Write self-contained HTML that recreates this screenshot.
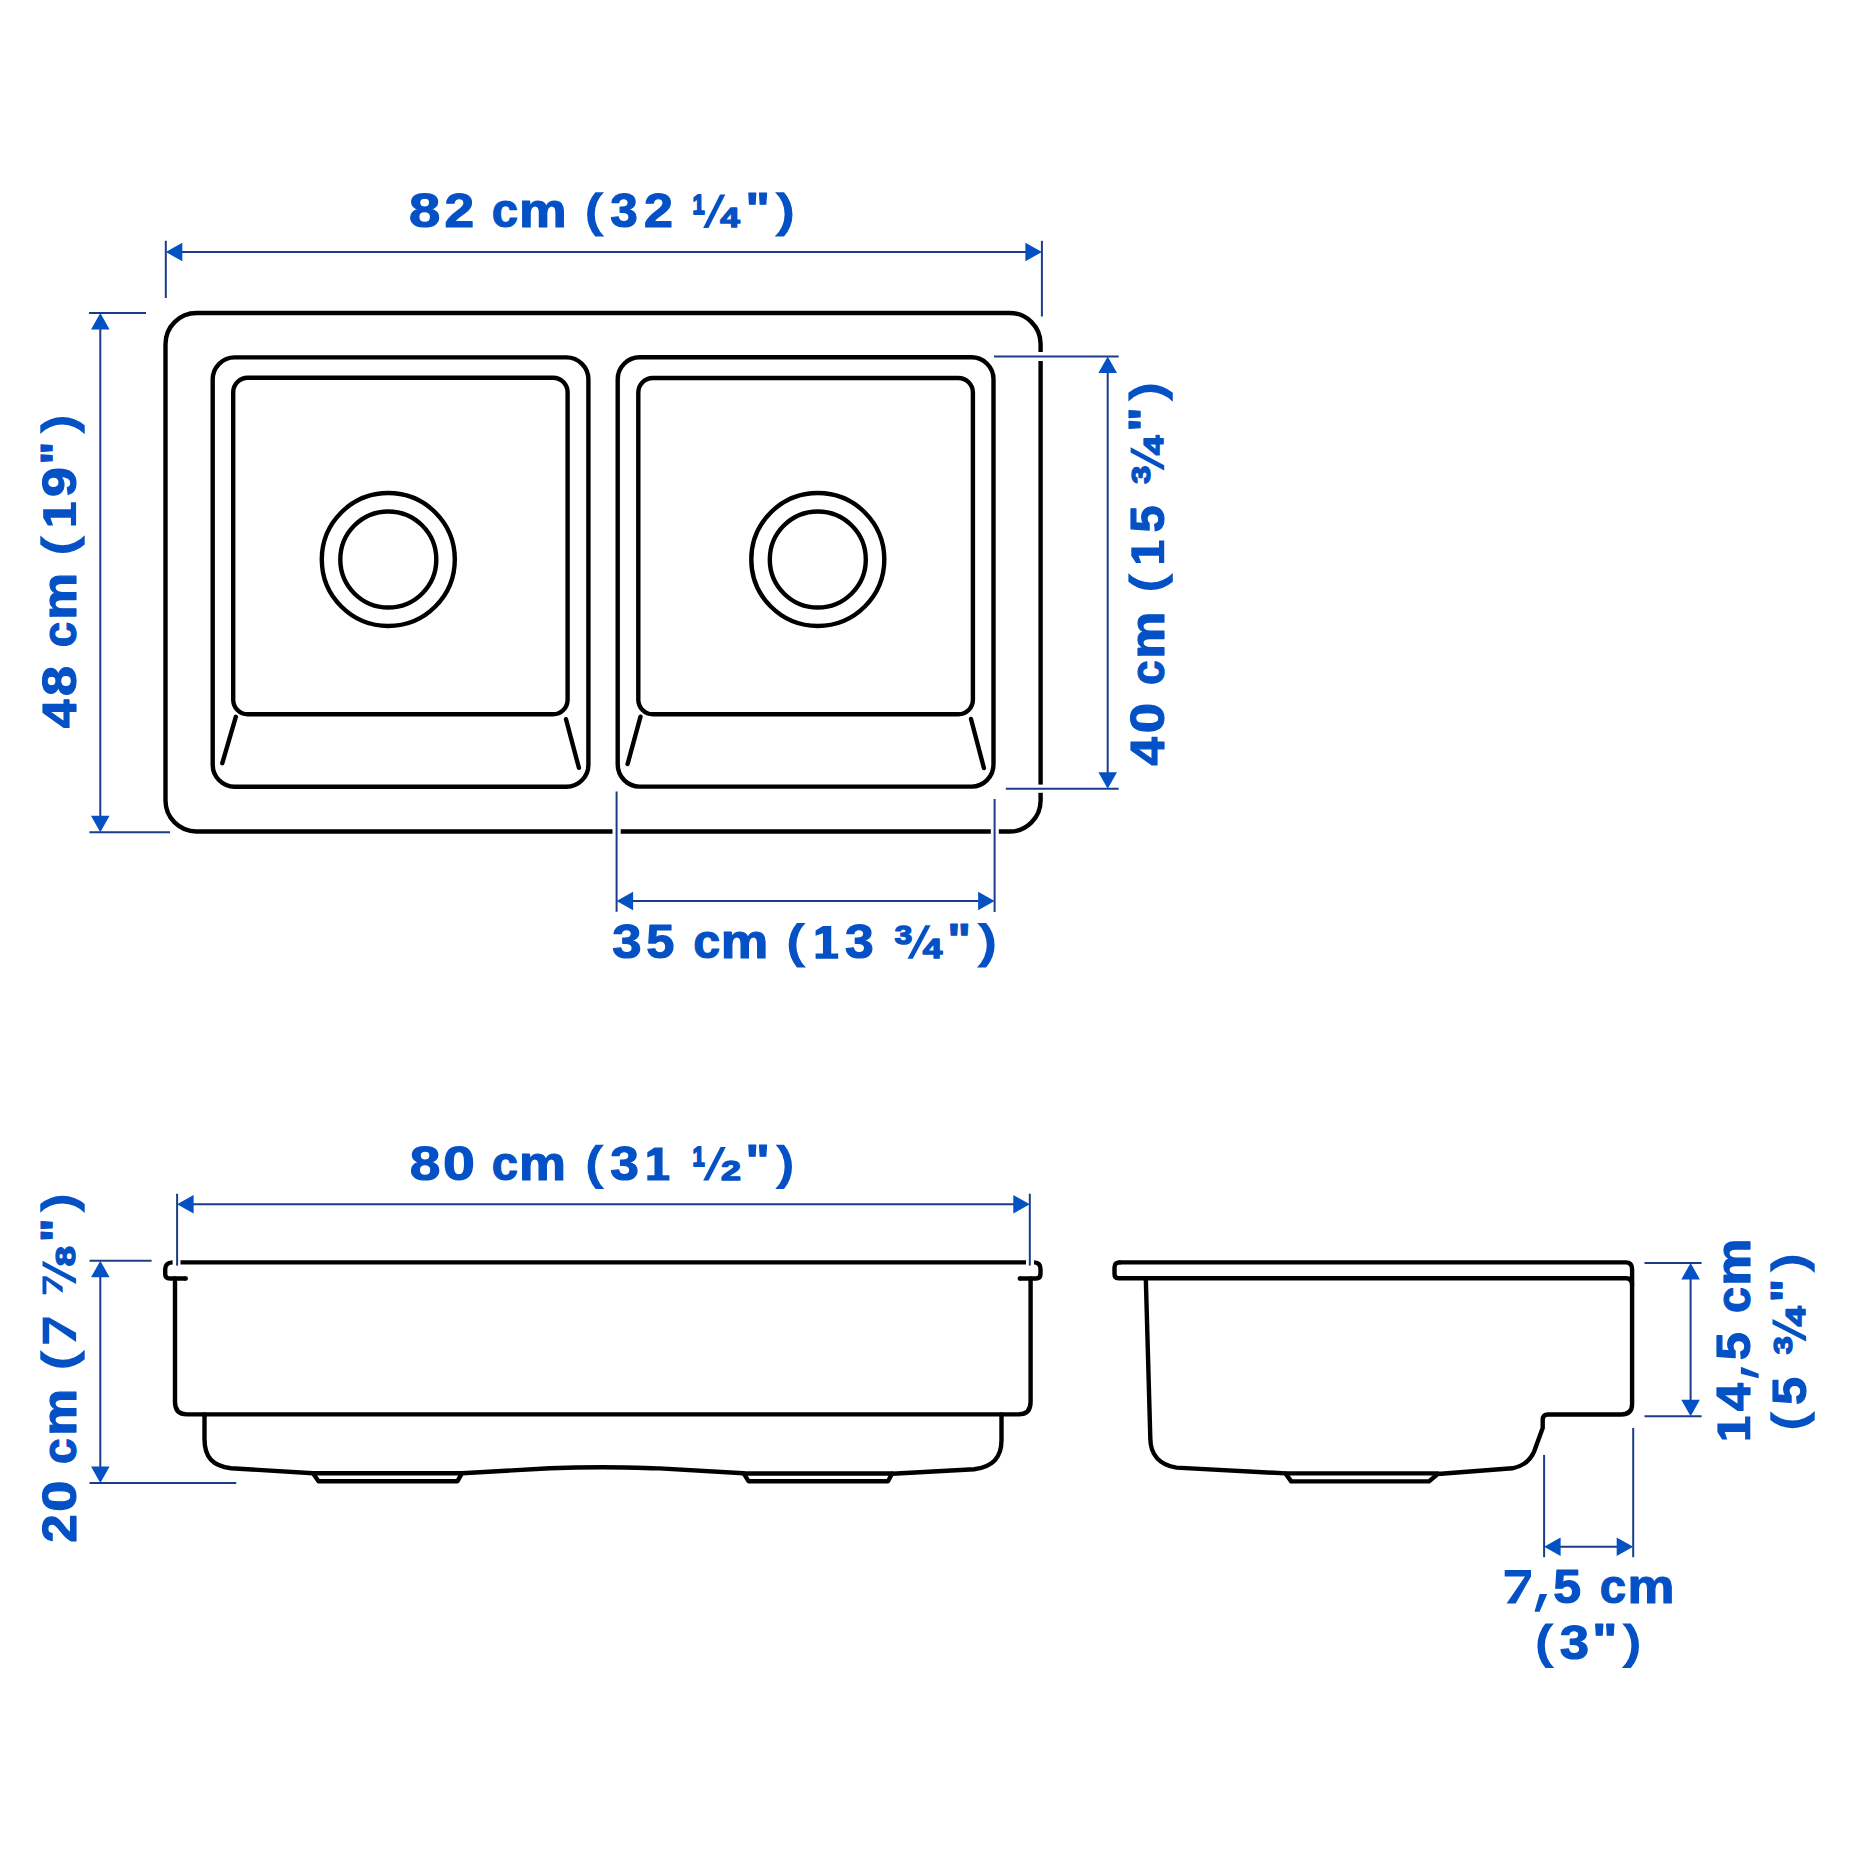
<!DOCTYPE html><html><head><meta charset="utf-8"><style>html,body{margin:0;padding:0;background:#fff;overflow:hidden;}svg{display:block;}</style></head><body>
<svg width="1860" height="1860" viewBox="0 0 1860 1860">
<rect width="1860" height="1860" fill="#fff"/>
<g fill="none" stroke="#000" stroke-width="4.4" stroke-linecap="round" stroke-linejoin="round">
<path d="M196.5,313 H1009.5999999999999 A31,31 0 0 1 1040.6,344 V800.5 A31,31 0 0 1 1009.5999999999999,831.5 H196.5 A31,31 0 0 1 165.5,800.5 V344 A31,31 0 0 1 196.5,313 Z"/>
<path d="M234.7,357.4 H566.4 A22,22 0 0 1 588.4,379.4 V764.7 A22,22 0 0 1 566.4,786.7 H234.7 A22,22 0 0 1 212.7,764.7 V379.4 A22,22 0 0 1 234.7,357.4 Z"/>
<path d="M247.7,377.8 H553.1 A14.5,14.5 0 0 1 567.6,392.3 V699.8 A14.5,14.5 0 0 1 553.1,714.3 H247.7 A14.5,14.5 0 0 1 233.2,699.8 V392.3 A14.5,14.5 0 0 1 247.7,377.8 Z"/>
<line x1="235.8" y1="716.8" x2="222.3" y2="763.2"/>
<line x1="566" y1="719.2" x2="578.9" y2="767.8"/>
<path d="M639.7,357.3 H971.5 A22,22 0 0 1 993.5,379.3 V764.6 A22,22 0 0 1 971.5,786.6 H639.7 A22,22 0 0 1 617.7,764.6 V379.3 A22,22 0 0 1 639.7,357.3 Z"/>
<path d="M652.8,378 H958.4 A14.5,14.5 0 0 1 972.9,392.5 V699.7 A14.5,14.5 0 0 1 958.4,714.2 H652.8 A14.5,14.5 0 0 1 638.3,699.7 V392.5 A14.5,14.5 0 0 1 652.8,378 Z"/>
<line x1="640.5" y1="716.7" x2="627.6" y2="764"/>
<line x1="971" y1="719" x2="983.9" y2="768"/>
<circle cx="388.3" cy="559.5" r="66.5"/>
<circle cx="388.3" cy="559.5" r="48"/>
<circle cx="817.8" cy="559.5" r="66.5"/>
<circle cx="817.8" cy="559.5" r="48"/>
</g>
<g fill="#fff">
<rect x="1036" y="352" width="10" height="9"/>
<rect x="1036" y="784.6" width="10" height="8.2"/>
<rect x="612.5" y="826" width="8.2" height="10"/>
<rect x="990.8" y="826" width="8" height="10"/>
</g>
<g fill="none" stroke="#000" stroke-width="4.4" stroke-linecap="round" stroke-linejoin="round">
<g stroke-linecap="butt">
<line x1="180.5" y1="1262.4" x2="1026" y2="1262.4"/>
<path d="M172.6,1262.4 Q165.2,1262.6 165.2,1269.2 V1274 Q165.2,1278.5 170,1278.5 H185.8"/>
<path d="M1034,1262.4 Q1040.5,1262.6 1040.5,1269 V1274 Q1040.5,1278.5 1036,1278.5 H1019.8"/>
</g>
<circle cx="185.8" cy="1278.5" r="2.2" fill="#000" stroke="none"/>
<circle cx="1019.8" cy="1278.5" r="2.2" fill="#000" stroke="none"/>
<path d="M175,1278.5 V1402 Q175,1414.4 187,1414.4 H1018.5 Q1030.6,1414.4 1030.6,1402 V1278.5"/>
<path d="M204.5,1414.4 V1439 C204.5,1457.5 213,1466 231,1468.2 L313,1473.2 L318.5,1481.2 H457.5 L462,1473.2 C490,1471.8 540,1468.5 549.7,1468.2 C570,1467.4 590,1467.2 602.7,1467.2 C625,1467.3 645,1468 659.4,1468.4 C690,1470 720,1472 743.5,1473.2 L748.5,1481.2 H888 L892,1473.8 L974.2,1469.2 C992.5,1467 1001.5,1458 1001.5,1440 V1414.4"/>
<line x1="313" y1="1473.3" x2="462" y2="1473.3"/>
<line x1="743.5" y1="1473.5" x2="892" y2="1473.5"/>
</g>
<g fill="none" stroke="#000" stroke-width="4.4" stroke-linecap="round" stroke-linejoin="round">
<path d="M1119.7,1262.4 H1625.8 Q1632.1,1262.4 1632.1,1269.2 V1404 Q1632.1,1414.5 1621,1414.5 H1548 Q1542.7,1414.5 1542.7,1420 V1428 L1534.3,1451.1 C1531,1459 1524,1466 1512.3,1468.3 L1437.7,1474 L1429,1481.4 H1291.2 L1285.5,1473.4 L1176.5,1467.6 C1160,1465 1150.3,1455 1150.3,1438 L1145.8,1278.3"/>
<path d="M1119.7,1262.4 Q1114.5,1262.4 1114.5,1267.6 V1274 Q1114.5,1278.2 1118.4,1278.2 H1626 Q1632.1,1278.2 1632.1,1285"/>
<line x1="1286" y1="1473.4" x2="1437.7" y2="1473.4"/>
</g>
<g fill="none" stroke="#1b3d86" stroke-width="2.0">
<line x1="165.8" y1="240.8" x2="165.8" y2="298"/>
<line x1="1041.9" y1="240.8" x2="1041.9" y2="316.5"/>
<line x1="170" y1="252" x2="1038" y2="252"/>
<line x1="89" y1="313" x2="146" y2="313"/>
<line x1="89.4" y1="832.3" x2="170" y2="832.3"/>
<line x1="100.3" y1="317" x2="100.3" y2="828"/>
<line x1="994" y1="356.5" x2="1118.7" y2="356.5"/>
<line x1="1005.8" y1="788.7" x2="1118.7" y2="788.7"/>
<line x1="1107.7" y1="360" x2="1107.7" y2="785"/>
<line x1="616.6" y1="791.5" x2="616.6" y2="911.8"/>
<line x1="994.6" y1="799" x2="994.6" y2="912"/>
<line x1="620" y1="901" x2="991" y2="901"/>
<line x1="177.1" y1="1193.7" x2="177.1" y2="1265.6"/>
<line x1="1029.8" y1="1193.7" x2="1029.8" y2="1265.6"/>
<line x1="180" y1="1204.3" x2="1027" y2="1204.3"/>
<line x1="89.5" y1="1260.8" x2="151.6" y2="1260.8"/>
<line x1="89.5" y1="1483.1" x2="236.3" y2="1483.1"/>
<line x1="100.3" y1="1264" x2="100.3" y2="1480"/>
<line x1="1644.5" y1="1262.9" x2="1701.6" y2="1262.9"/>
<line x1="1644.5" y1="1416.2" x2="1701.6" y2="1416.2"/>
<line x1="1690.6" y1="1266" x2="1690.6" y2="1413"/>
<line x1="1544.1" y1="1455" x2="1544.1" y2="1557.2"/>
<line x1="1633.2" y1="1427.9" x2="1633.2" y2="1557.2"/>
<line x1="1547" y1="1546.7" x2="1630" y2="1546.7"/>
</g>
<g fill="#0451c6">
<polygon points="165.8,252.0 182.3,242.7 182.3,261.3"/>
<polygon points="1041.9,252.0 1025.4,242.7 1025.4,261.3"/>
<polygon points="100.3,313.0 91.0,329.5 109.6,329.5"/>
<polygon points="100.3,832.3 91.0,815.8 109.6,815.8"/>
<polygon points="1107.7,356.5 1098.4,373.0 1117.0,373.0"/>
<polygon points="1107.7,788.7 1098.4,772.2 1117.0,772.2"/>
<polygon points="616.6,901.0 633.1,891.7 633.1,910.3"/>
<polygon points="994.6,901.0 978.1,891.7 978.1,910.3"/>
<polygon points="177.1,1204.3 193.6,1195.0 193.6,1213.6"/>
<polygon points="1029.8,1204.3 1013.3,1195.0 1013.3,1213.6"/>
<polygon points="100.3,1260.8 91.0,1277.3 109.6,1277.3"/>
<polygon points="100.3,1483.1 91.0,1466.6 109.6,1466.6"/>
<polygon points="1690.6,1262.9 1681.3,1279.4 1699.9,1279.4"/>
<polygon points="1690.6,1416.2 1681.3,1399.7 1699.9,1399.7"/>
<polygon points="1544.1,1546.7 1560.6,1537.4 1560.6,1556.0"/>
<polygon points="1633.2,1546.7 1616.7,1537.4 1616.7,1556.0"/>
</g>
<g font-family="Liberation Sans" font-weight="bold" fill="#0451c6" stroke="#0451c6" stroke-linejoin="round">
<text transform="matrix(1.1856 0 0 1.0000 409.01 227.40)" font-size="47.5" stroke-width="1.10">8</text>
<text transform="matrix(1.1238 0 0 1.0000 444.45 227.40)" font-size="47.5" stroke-width="1.13">2</text>
<text transform="matrix(0.9927 0 0 1.0000 491.76 227.40)" font-size="47.5" stroke-width="1.20">c</text>
<text transform="matrix(1.1284 0 0 1.0000 519.07 227.40)" font-size="47.5" stroke-width="1.13">m</text>
<path stroke="none" transform="matrix(0.9942 0 0 1.0045 587.10 227.96)" d="M8.3,-35.6 A33.6,33.6 0 0 0 8.3,8.6 L17.3,8.6 A30.45,30.45 0 0 1 17.0,-35.6 Z"/>
<text transform="matrix(1.0419 0 0 1.0000 610.26 227.40)" font-size="47.5" stroke-width="1.18">3</text>
<text transform="matrix(1.0976 0 0 1.0000 643.99 227.40)" font-size="47.5" stroke-width="1.15">2</text>
<text transform="matrix(0.4615 0 0 0.5692 692.42 213.80)" font-size="47.5" stroke-width="3.12">1</text>
<text transform="matrix(0.7389 0 0 0.5814 720.17 227.20)" font-size="47.5" stroke-width="2.44">4</text>
<polygon stroke="none" points="703.20,228.00 708.50,228.00 725.30,194.40 720.00,194.40"/>
<text transform="matrix(1.0825 0 0 0.9450 745.61 223.88)" font-size="47.5" stroke-width="1.19">&quot;</text>
<path stroke="none" transform="matrix(1.0289 0 0 1.0045 774.70 227.96)" d="M9,-35.6 A33.6,33.6 0 0 1 9,8.6 L0,8.6 A30.45,30.45 0 0 0 0.3,-35.6 Z"/>
<text transform="matrix(1.1097 0 0 1.0000 612.29 958.20)" font-size="47.5" stroke-width="1.14">3</text>
<text transform="matrix(1.0663 0 0 1.0000 646.34 958.20)" font-size="47.5" stroke-width="1.16">5</text>
<text transform="matrix(1.0186 0 0 1.0000 693.31 958.20)" font-size="47.5" stroke-width="1.19">c</text>
<text transform="matrix(1.1256 0 0 1.0000 720.78 958.20)" font-size="47.5" stroke-width="1.13">m</text>
<path stroke="none" transform="matrix(0.9942 0 0 1.0045 788.70 958.76)" d="M8.3,-35.6 A33.6,33.6 0 0 0 8.3,8.6 L17.3,8.6 A30.45,30.45 0 0 1 17.0,-35.6 Z"/>
<polygon stroke="none" points="822.97,925.90 831.24,925.90 831.24,953.60 838.20,953.60 838.20,958.80 815.60,958.80 815.60,953.60 822.97,953.60 822.97,933.20 815.60,935.80 815.60,930.60"/>
<text transform="matrix(1.0885 0 0 1.0000 845.11 958.20)" font-size="47.5" stroke-width="1.15">3</text>
<text transform="matrix(0.6607 0 0 0.5519 894.68 944.31)" font-size="47.5" stroke-width="2.65">3</text>
<text transform="matrix(0.7389 0 0 0.5814 922.87 958.00)" font-size="47.5" stroke-width="2.44">4</text>
<polygon stroke="none" points="907.50,958.80 912.80,958.80 930.60,925.20 925.30,925.20"/>
<text transform="matrix(1.0518 0 0 0.9450 947.31 954.68)" font-size="47.5" stroke-width="1.20">&quot;</text>
<path stroke="none" transform="matrix(1.0231 0 0 1.0045 976.90 958.76)" d="M9,-35.6 A33.6,33.6 0 0 1 9,8.6 L0,8.6 A30.45,30.45 0 0 0 0.3,-35.6 Z"/>
<text transform="matrix(1.1600 0 0 1.0000 409.65 1179.90)" font-size="47.5" stroke-width="1.11">8</text>
<text transform="matrix(1.2085 0 0 1.0000 442.93 1179.90)" font-size="47.5" stroke-width="1.09">0</text>
<text transform="matrix(0.9927 0 0 1.0000 491.76 1179.90)" font-size="47.5" stroke-width="1.20">c</text>
<text transform="matrix(1.1118 0 0 1.0000 519.12 1179.90)" font-size="47.5" stroke-width="1.14">m</text>
<path stroke="none" transform="matrix(0.9653 0 0 1.0045 587.60 1180.46)" d="M8.3,-35.6 A33.6,33.6 0 0 0 8.3,8.6 L17.3,8.6 A30.45,30.45 0 0 1 17.0,-35.6 Z"/>
<text transform="matrix(1.0842 0 0 1.0000 610.22 1179.90)" font-size="47.5" stroke-width="1.15">3</text>
<polygon stroke="none" points="654.50,1147.60 662.59,1147.60 662.59,1175.30 669.40,1175.30 669.40,1180.50 647.30,1180.50 647.30,1175.30 654.50,1175.30 654.50,1154.90 647.30,1157.50 647.30,1152.30"/>
<text transform="matrix(0.4615 0 0 0.5692 692.42 1166.30)" font-size="47.5" stroke-width="3.12">1</text>
<text transform="matrix(0.7521 0 0 0.5729 721.06 1179.70)" font-size="47.5" stroke-width="2.44">2</text>
<polygon stroke="none" points="703.20,1180.50 708.50,1180.50 725.80,1146.90 720.50,1146.90"/>
<text transform="matrix(1.0825 0 0 0.9450 745.61 1176.38)" font-size="47.5" stroke-width="1.19">&quot;</text>
<path stroke="none" transform="matrix(0.9653 0 0 1.0045 775.30 1180.46)" d="M9,-35.6 A33.6,33.6 0 0 1 9,8.6 L0,8.6 A30.45,30.45 0 0 0 0.3,-35.6 Z"/>
<g transform="translate(76.1,0) rotate(-90)">
<text transform="matrix(1.0887 0 0 1.0000 -728.18 -0.60)" font-size="47.5" stroke-width="1.15">4</text>
<text transform="matrix(1.1387 0 0 1.0000 -695.92 -0.60)" font-size="47.5" stroke-width="1.12">8</text>
<text transform="matrix(0.9668 0 0 1.0000 -647.29 -0.60)" font-size="47.5" stroke-width="1.22">c</text>
<text transform="matrix(1.1090 0 0 1.0000 -619.77 -0.60)" font-size="47.5" stroke-width="1.14">m</text>
<path stroke="none" transform="matrix(1.0231 0 0 1.0045 -553.00 -0.04)" d="M8.3,-35.6 A33.6,33.6 0 0 0 8.3,8.6 L17.3,8.6 A30.45,30.45 0 0 1 17.0,-35.6 Z"/>
<polygon stroke="none" points="-517.84,-32.90 -509.35,-32.90 -509.35,-5.20 -502.20,-5.20 -502.20,0.00 -525.40,0.00 -525.40,-5.20 -517.84,-5.20 -517.84,-25.60 -525.40,-23.00 -525.40,-28.20"/>
<text transform="matrix(1.1257 0 0 1.0000 -497.05 -0.60)" font-size="47.5" stroke-width="1.13">9</text>
<text transform="matrix(1.0149 0 0 0.9450 -464.38 -4.12)" font-size="47.5" stroke-width="1.23">&quot;</text>
<path stroke="none" transform="matrix(0.9942 0 0 1.0045 -434.20 -0.04)" d="M9,-35.6 A33.6,33.6 0 0 1 9,8.6 L0,8.6 A30.45,30.45 0 0 0 0.3,-35.6 Z"/>
</g>
<g transform="translate(1164.2,0) rotate(-90)">
<text transform="matrix(1.0848 0 0 1.0000 -765.78 -0.60)" font-size="47.5" stroke-width="1.15">4</text>
<text transform="matrix(1.1465 0 0 1.0000 -733.15 -0.60)" font-size="47.5" stroke-width="1.12">0</text>
<text transform="matrix(0.9322 0 0 1.0000 -685.03 -0.60)" font-size="47.5" stroke-width="1.24">c</text>
<text transform="matrix(1.1201 0 0 1.0000 -658.81 -0.60)" font-size="47.5" stroke-width="1.13">m</text>
<path stroke="none" transform="matrix(0.9942 0 0 1.0045 -590.10 -0.04)" d="M8.3,-35.6 A33.6,33.6 0 0 0 8.3,8.6 L17.3,8.6 A30.45,30.45 0 0 1 17.0,-35.6 Z"/>
<polygon stroke="none" points="-555.70,-32.90 -547.50,-32.90 -547.50,-5.20 -540.60,-5.20 -540.60,0.00 -563.00,0.00 -563.00,-5.20 -555.70,-5.20 -555.70,-25.60 -563.00,-23.00 -563.00,-28.20"/>
<text transform="matrix(1.0239 0 0 1.0000 -532.50 -0.60)" font-size="47.5" stroke-width="1.19">5</text>
<text transform="matrix(0.6777 0 0 0.5519 -483.74 -14.49)" font-size="47.5" stroke-width="2.62">3</text>
<text transform="matrix(0.7468 0 0 0.5814 -455.14 -0.80)" font-size="47.5" stroke-width="2.43">4</text>
<polygon stroke="none" points="-470.50,0.00 -465.20,0.00 -447.30,-33.60 -452.60,-33.60"/>
<text transform="matrix(1.0948 0 0 0.9450 -431.63 -4.12)" font-size="47.5" stroke-width="1.18">&quot;</text>
<path stroke="none" transform="matrix(0.9942 0 0 1.0045 -401.70 -0.04)" d="M9,-35.6 A33.6,33.6 0 0 1 9,8.6 L0,8.6 A30.45,30.45 0 0 0 0.3,-35.6 Z"/>
</g>
<g transform="translate(76.1,0) rotate(-90)">
<text transform="matrix(1.0757 0 0 1.0000 -1542.67 -0.60)" font-size="47.5" stroke-width="1.16">2</text>
<text transform="matrix(1.1819 0 0 1.0000 -1511.72 -0.60)" font-size="47.5" stroke-width="1.10">0</text>
<text transform="matrix(0.9711 0 0 1.0000 -1464.10 -0.60)" font-size="47.5" stroke-width="1.22">c</text>
<text transform="matrix(1.1090 0 0 1.0000 -1435.67 -0.60)" font-size="47.5" stroke-width="1.14">m</text>
<path stroke="none" transform="matrix(1.0405 0 0 1.0045 -1367.80 -0.04)" d="M8.3,-35.6 A33.6,33.6 0 0 0 8.3,8.6 L17.3,8.6 A30.45,30.45 0 0 1 17.0,-35.6 Z"/>
<polygon stroke="none" points="-1343.80,-33.40 -1317.50,-33.40 -1317.50,-26.90 -1332.80,0.00 -1341.90,0.00 -1323.50,-26.90 -1343.80,-26.90"/>
<polygon stroke="none" points="-1294.20,-33.60 -1276.20,-33.60 -1276.20,-29.67 -1286.67,-13.40 -1292.90,-13.40 -1280.31,-29.67 -1294.20,-29.67"/>
<text transform="matrix(0.7591 0 0 0.5650 -1266.24 -1.06)" font-size="47.5" stroke-width="2.44">8</text>
<polygon stroke="none" points="-1283.90,0.00 -1278.60,0.00 -1260.70,-33.60 -1266.00,-33.60"/>
<text transform="matrix(1.0641 0 0 0.9450 -1242.33 -4.12)" font-size="47.5" stroke-width="1.20">&quot;</text>
<path stroke="none" transform="matrix(0.9942 0 0 1.0045 -1213.00 -0.04)" d="M9,-35.6 A33.6,33.6 0 0 1 9,8.6 L0,8.6 A30.45,30.45 0 0 0 0.3,-35.6 Z"/>
</g>
<g transform="translate(1750.3,0) rotate(-90)">
<polygon stroke="none" points="-1431.97,-32.90 -1423.62,-32.90 -1423.62,-5.20 -1416.60,-5.20 -1416.60,0.00 -1439.40,0.00 -1439.40,-5.20 -1431.97,-5.20 -1431.97,-25.60 -1439.40,-23.00 -1439.40,-28.20"/>
<text transform="matrix(1.0691 0 0 1.0000 -1411.17 -0.60)" font-size="47.5" stroke-width="1.16">4</text>
<polygon stroke="none" points="-1373.64,-9.40 -1366.70,-9.40 -1373.64,8.40 -1378.30,8.40"/>
<text transform="matrix(1.0620 0 0 1.0000 -1360.35 -0.60)" font-size="47.5" stroke-width="1.16">5</text>
<text transform="matrix(0.9883 0 0 1.0000 -1312.93 -0.60)" font-size="47.5" stroke-width="1.21">c</text>
<text transform="matrix(1.1201 0 0 1.0000 -1285.81 -0.60)" font-size="47.5" stroke-width="1.13">m</text>
</g>
<g transform="translate(1806.1,0) rotate(-90)">
<path stroke="none" transform="matrix(0.9942 0 0 1.0045 -1428.20 -0.04)" d="M8.3,-35.6 A33.6,33.6 0 0 0 8.3,8.6 L17.3,8.6 A30.45,30.45 0 0 1 17.0,-35.6 Z"/>
<text transform="matrix(1.0620 0 0 1.0000 -1405.05 -0.60)" font-size="47.5" stroke-width="1.16">5</text>
<text transform="matrix(0.6777 0 0 0.5519 -1354.24 -14.49)" font-size="47.5" stroke-width="2.62">3</text>
<text transform="matrix(0.7664 0 0 0.5814 -1326.55 -0.80)" font-size="47.5" stroke-width="2.40">4</text>
<polygon stroke="none" points="-1341.40,0.00 -1336.10,0.00 -1319.00,-33.60 -1324.30,-33.60"/>
<text transform="matrix(1.0395 0 0 0.9450 -1302.35 -4.12)" font-size="47.5" stroke-width="1.21">&quot;</text>
<path stroke="none" transform="matrix(0.9942 0 0 1.0045 -1273.00 -0.04)" d="M9,-35.6 A33.6,33.6 0 0 1 9,8.6 L0,8.6 A30.45,30.45 0 0 0 0.3,-35.6 Z"/>
</g>
<polygon stroke="none" points="1504.70,1570.00 1531.00,1570.00 1531.00,1576.50 1515.70,1603.40 1506.60,1603.40 1525.00,1576.50 1504.70,1576.50"/>
<polygon stroke="none" points="1539.60,1594.00 1547.20,1594.00 1539.60,1611.80 1534.50,1611.80"/>
<text transform="matrix(1.0536 0 0 1.0000 1553.16 1602.80)" font-size="47.5" stroke-width="1.17">5</text>
<text transform="matrix(0.9927 0 0 1.0000 1599.86 1602.80)" font-size="47.5" stroke-width="1.20">c</text>
<text transform="matrix(1.1118 0 0 1.0000 1627.52 1602.80)" font-size="47.5" stroke-width="1.14">m</text>
<path stroke="none" transform="matrix(0.9711 0 0 1.0045 1537.40 1659.36)" d="M8.3,-35.6 A33.6,33.6 0 0 0 8.3,8.6 L17.3,8.6 A30.45,30.45 0 0 1 17.0,-35.6 Z"/>
<text transform="matrix(1.1097 0 0 1.0000 1559.69 1658.80)" font-size="47.5" stroke-width="1.14">3</text>
<text transform="matrix(1.1133 0 0 0.9450 1592.31 1655.28)" font-size="47.5" stroke-width="1.17">&quot;</text>
<path stroke="none" transform="matrix(0.9884 0 0 1.0045 1621.90 1659.36)" d="M9,-35.6 A33.6,33.6 0 0 1 9,8.6 L0,8.6 A30.45,30.45 0 0 0 0.3,-35.6 Z"/>
</g>
</svg></body></html>
